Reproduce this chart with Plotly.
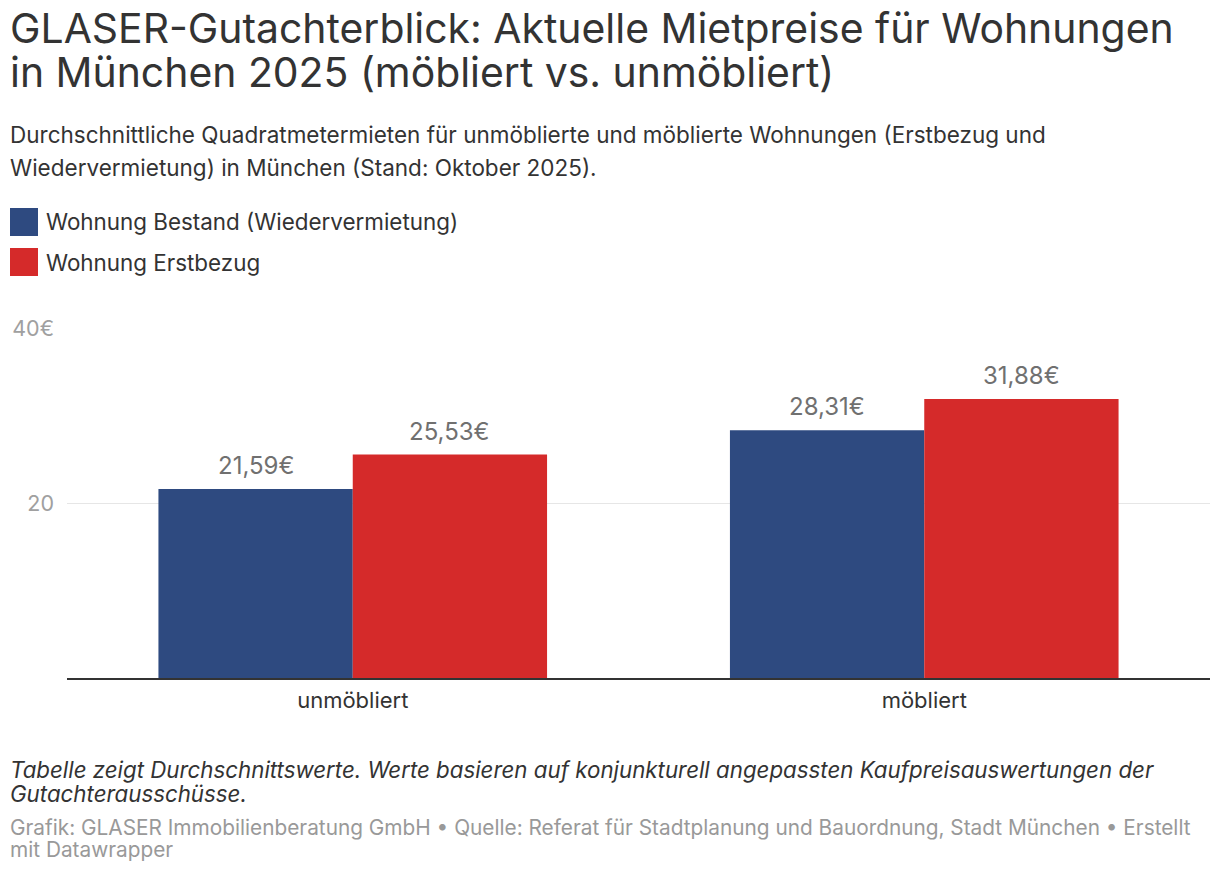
import plotly.graph_objects as go

categories = ["unmöbliert", "möbliert"]
series_names = ["Wohnung Bestand (Wiedervermietung)", "Wohnung Erstbezug"]
bestand = [21.59, 28.31]
erstbezug = [25.53, 31.88]
tick_vals = [20, 40]
tick_text = ["20", "40€"]

title_lines = ["GLASER-Gutachterblick: Aktuelle Mietpreise für Wohnungen",
               "in München 2025 (möbliert vs. unmöbliert)"]
subtitle_lines = ["Durchschnittliche Quadratmetermieten für unmöblierte und möblierte Wohnungen (Erstbezug und",
                  "Wiedervermietung) in München (Stand: Oktober 2025)."]
note_lines = ["Tabelle zeigt Durchschnittswerte. Werte basieren auf konjunkturell angepassten Kaufpreisauswertungen der",
              "Gutachterausschüsse."]
credit_lines = ["Grafik: GLASER Immobilienberatung GmbH • Quelle: Referat für Stadtplanung und Bauordnung, Stadt München • Erstellt",
                "mit Datawrapper"]

colors = ["#2e4a80", "#d52a2a"]
FONT = "Inter, Liberation Sans, Arial, sans-serif"

W, H = 1220, 872
plot_left, plot_right, plot_top, plot_bottom = 67, 1210, 328, 678
L, R = plot_left, W - plot_right
T, B = plot_top, H - plot_bottom
PW, PH = W - L - R, H - T - B
BARGAP = 0.32

def px(x):
    return (x - plot_left) / PW

def py(y):
    return (plot_bottom - y) / PH

fig = go.Figure()
for name, vals, col in zip(series_names, [bestand, erstbezug], colors):
    fig.add_trace(go.Bar(
        x=categories, y=vals, name=name, marker_color=col, marker_line_width=0,
        showlegend=False, hoverinfo="x+y+name",
    ))

annotations = []

# value labels above each bar
cat_px = PW / len(categories)
bar_px = cat_px * (1 - BARGAP) / 2
for i, vals in enumerate([bestand, erstbezug]):
    shift = (i - 0.5) * bar_px
    for c, v in zip(categories, vals):
        annotations.append(dict(
            text=f"{v:.2f}".replace(".", ",") + "€", x=c, y=v, xref="x", yref="y",
            xshift=shift, yshift=7, yanchor="bottom", xanchor="center",
            showarrow=False, font=dict(family=FONT, size=24, color="#707070"),
        ))

def add_lines(lines, x0, y_tops, size, color, italic=False):
    for line, yt in zip(lines, y_tops):
        annotations.append(dict(
            text=f"<i>{line}</i>" if italic else line,
            x=px(x0), y=py(yt), xref="paper", yref="paper",
            xanchor="left", yanchor="top", showarrow=False, align="left",
            font=dict(family=FONT, size=size, color=color), borderpad=0,
        ))

add_lines(title_lines, 9, [2, 46], 40.9, "#333333")
add_lines(subtitle_lines, 9, [120, 153], 22.5, "#333333")
add_lines(note_lines, 9, [755, 779], 22.3, "#333333", italic=True)
add_lines(credit_lines, 9, [814, 836], 20.8, "#999999")

shapes = []
legend_tops = [208, 248]
for name, col, yt in zip(series_names, colors, legend_tops):
    shapes.append(dict(type="rect", xref="paper", yref="paper",
                       x0=px(10), x1=px(38), y0=py(yt), y1=py(yt + 28),
                       fillcolor=col, line_width=0))
    annotations.append(dict(text=name, x=px(44), y=py(yt + 14), xref="paper", yref="paper",
                            xanchor="left", yanchor="middle", showarrow=False,
                            font=dict(family=FONT, size=22.4, color="#333333")))

fig.update_layout(
    width=W, height=H, margin=dict(l=L, r=R, t=T, b=B, autoexpand=False),
    paper_bgcolor="white", plot_bgcolor="white",
    barmode="group", bargap=BARGAP, bargroupgap=0,
    font=dict(family=FONT, color="#333333"),
    annotations=annotations, shapes=shapes,
    xaxis=dict(showline=True, linecolor="#333333", linewidth=2, ticks="",
               tickfont=dict(family=FONT, size=22, color="#333333"),
               ticklabelstandoff=2, showgrid=False, zeroline=False),
    yaxis=dict(range=[0, 40], tickvals=tick_vals, ticktext=tick_text,
               showgrid=True, gridcolor="#e6e6e6", gridwidth=1, zeroline=False,
               showline=False, ticks="", ticklabelstandoff=12,
               tickfont=dict(family=FONT, size=21.5, color="#a0a0a0")),
)

fig.write_html("out.html", config={"displayModeBar": False},
               post_script="document.body.style.margin='0';document.body.style.overflow='hidden';")
